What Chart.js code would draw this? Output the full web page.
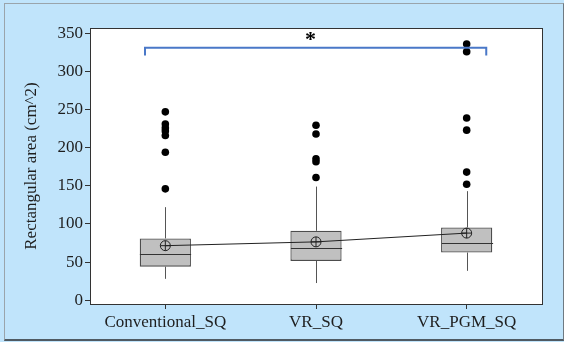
<!DOCTYPE html>
<html>
<head>
<meta charset="utf-8">
<script src="https://cdn.jsdelivr.net/npm/chart.js@4/dist/chart.umd.min.js"></script>
<style>
  html, body { margin: 0; padding: 0; background: #c0e4fb; }
  #wrap { position: relative; width: 564px; height: 342px; background: #c0e4fb; overflow: hidden; }
  #areaChart { position: absolute; left: 0; top: 0; }
  #frame {
    position: absolute; left: 4px; top: 3px; width: 558px; height: 335px;
    border-top: 1px solid #9aa4ab; border-left: 1px solid #9aa4ab;
    border-right: 1px solid #6f7a82; border-bottom: 2px solid #4f5a62;
    pointer-events: none;
  }
</style>
</head>
<body>
<div id="wrap">
  <canvas id="areaChart" width="564" height="342"></canvas>
  <div id="frame"></div>
</div>
<script>
// --- data ---
const categories = ['Conventional_SQ', 'VR_SQ', 'VR_PGM_SQ'];
const q1 = [44, 51.5, 62.5];
const medians = [60, 68, 74.5];
const q3 = [81, 91, 95.5];
const whiskerLow = [28, 22.5, 38.5];
const whiskerHigh = [122, 149, 143];
const means = [71.5, 76.5, 88];
const outliersConventional = [247, 231, 226, 222, 216, 194, 146];
const outliersVR = [229.5, 218, 185.5, 181.5, 161];
const outliersVRPGM = [336, 326, 239, 223, 168, 152];
const yTicks = [0, 50, 100, 150, 200, 250, 300, 350];

// significance bracket between first and last group
const bracketY = 331;
const bracketDrop = 321;
const starY = 346;

const serif = "'Liberation Serif', 'Times New Roman', serif";
const textColor = '#1e1e1e';

const outlierPoints = [];
[outliersConventional, outliersVR, outliersVRPGM].forEach((list, i) => {
    list.forEach(v => outlierPoints.push({ x: categories[i], y: v }));
});

// plot area white background + frame
const plotFrame = {
    id: 'plotFrame',
    beforeDraw(chart) {
        const { ctx, chartArea: a } = chart;
        ctx.save();
        ctx.fillStyle = '#ffffff';
        ctx.fillRect(a.left, a.top, a.right - a.left, a.bottom - a.top);
        ctx.restore();
    },
    afterDraw(chart) {
        const { ctx, chartArea: a } = chart;
        ctx.save();
        ctx.strokeStyle = '#333';
        ctx.lineWidth = 1;
        ctx.strokeRect(Math.round(a.left) + 0.5, Math.round(a.top) + 0.5,
            Math.round(a.right - a.left), Math.round(a.bottom - a.top));
        ctx.restore();
    }
};

// whiskers and median lines, drawn right after the boxes
const boxParts = {
    id: 'boxParts',
    afterDatasetDraw(chart, args) {
        if (args.index !== 0) return;
        const { ctx, scales: { x, y } } = chart;
        const meta = chart.getDatasetMeta(0);
        ctx.save();
        categories.forEach((c, i) => {
            const cx = Math.round(x.getPixelForValue(i)) + 0.5;
            const half = meta.data[i].width / 2;
            ctx.strokeStyle = '#555';
            ctx.lineWidth = 1;
            ctx.beginPath();
            ctx.moveTo(cx, y.getPixelForValue(q3[i]));
            ctx.lineTo(cx, y.getPixelForValue(whiskerHigh[i]));
            ctx.moveTo(cx, y.getPixelForValue(q1[i]));
            ctx.lineTo(cx, y.getPixelForValue(whiskerLow[i]));
            ctx.stroke();
            const my = Math.round(y.getPixelForValue(medians[i])) + 0.5;
            ctx.strokeStyle = '#333';
            ctx.lineWidth = 1.2;
            ctx.beginPath();
            ctx.moveTo(cx - half, my);
            ctx.lineTo(cx + half, my);
            ctx.stroke();
        });
        ctx.restore();
    }
};

const sigBracket = {
    id: 'sigBracket',
    afterDraw(chart) {
        const { ctx, scales: { x, y } } = chart;
        const x0 = x.getPixelForValue(-0.135);
        const x1 = x.getPixelForValue(2.13);
        const yt = y.getPixelForValue(bracketY);
        const yb = y.getPixelForValue(bracketDrop);
        ctx.save();
        ctx.strokeStyle = '#4a78c8';
        ctx.lineWidth = 2;
        ctx.beginPath();
        ctx.moveTo(x0, yb);
        ctx.lineTo(x0, yt);
        ctx.lineTo(x1, yt);
        ctx.lineTo(x1, yb);
        ctx.stroke();
        ctx.fillStyle = '#000';
        ctx.font = "bold 22px " + serif;
        ctx.textAlign = 'center';
        ctx.textBaseline = 'middle';
        ctx.fillText('*', (x0 + x1) / 2 - 5, y.getPixelForValue(starY) + 4);
        ctx.restore();
    }
};

const ctx = document.getElementById('areaChart').getContext('2d');
new Chart(ctx, {
    type: 'bar',
    data: {
        labels: categories,
        datasets: [
            {
                type: 'bar',
                data: categories.map((c, i) => [q1[i], q3[i]]),
                backgroundColor: '#c0c0c0',
                borderColor: '#4d4d4d',
                borderWidth: 1.3,
                borderSkipped: false,
                barPercentage: 0.34,
                categoryPercentage: 1,
                order: 3
            },
            {
                type: 'line',
                data: means,
                borderColor: '#222',
                borderWidth: 1,
                pointStyle: 'circle',
                pointRadius: 5,
                pointBackgroundColor: 'rgba(0,0,0,0)',
                pointBorderColor: '#222',
                pointBorderWidth: 1,
                order: 2
            },
            {
                type: 'line',
                data: means,
                showLine: false,
                pointStyle: 'cross',
                pointRadius: 5,
                pointBorderColor: '#222',
                pointBorderWidth: 1,
                order: 1
            },
            {
                type: 'line',
                data: outlierPoints,
                showLine: false,
                pointStyle: 'circle',
                pointRadius: 3.8,
                pointBackgroundColor: '#000',
                pointBorderColor: '#000',
                pointBorderWidth: 0,
                order: 0
            }
        ]
    },
    options: {
        responsive: false,
        animation: false,
        layout: { padding: { left: 0, top: 28, right: 22, bottom: 8 } },
        plugins: { legend: { display: false }, tooltip: { enabled: false } },
        scales: {
            x: {
                offset: true,
                grid: { offset: false, drawOnChartArea: false, drawTicks: true, tickLength: 5, color: '#333' },
                border: { display: true, color: '#333', width: 1 },
                ticks: { font: { family: serif, size: 17 }, color: textColor, padding: 3, maxRotation: 0 },
                afterFit: s => { s.height = 30; }
            },
            y: {
                min: -5,
                max: 357,
                afterBuildTicks: s => { s.ticks = yTicks.map(v => ({ value: v })); },
                grid: { drawOnChartArea: false, drawTicks: true, tickLength: 5, color: '#333' },
                border: { display: true, color: '#333', width: 1 },
                ticks: { font: { family: serif, size: 17 }, color: textColor, padding: 2 },
                title: {
                    display: true,
                    text: 'Rectangular area (cm^2)',
                    font: { family: serif, size: 17 },
                    color: textColor,
                    padding: { top: 21, bottom: 0 }
                },
                afterFit: s => { s.width = 90; }
            }
        }
    },
    plugins: [plotFrame, boxParts, sigBracket]
});
</script>
</body>
</html>
